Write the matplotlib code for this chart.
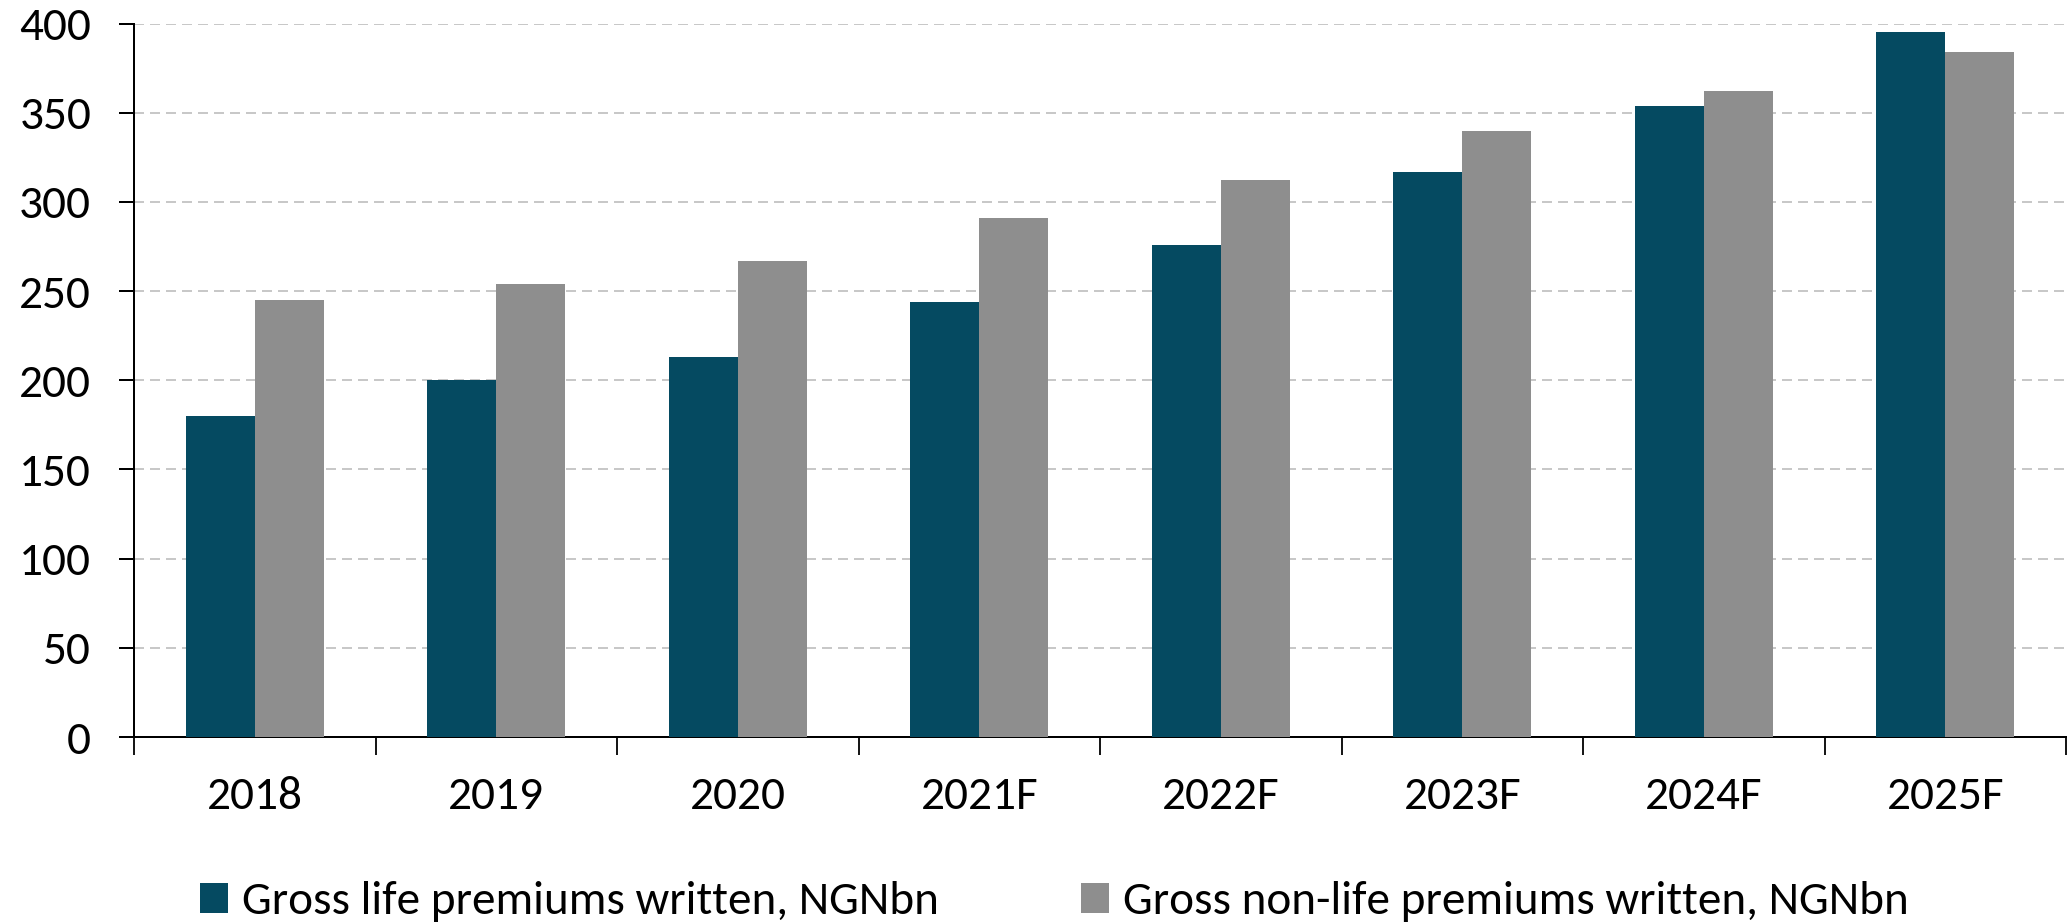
import matplotlib
matplotlib.use("Agg")
import matplotlib.pyplot as plt
import numpy as np

# Gross premiums written, NGN bn
years = ["2018", "2019", "2020", "2021F", "2022F", "2023F", "2024F", "2025F"]
life = [180, 200, 213, 244, 276, 317, 354, 395]
non_life = [245, 254, 267, 291, 312, 340, 362, 384]
y_ticks = [0, 50, 100, 150, 200, 250, 300, 350, 400]
series_names = ["Gross life premiums written, NGNbn",
                "Gross non-life premiums written, NGNbn"]

plt.rcParams["font.family"] = ["Carlito", "Lato", "DejaVu Sans"]

DARK = "#054a61"
GREY = "#8e8e8e"
FS = 34

fig = plt.figure(figsize=(20.7, 9.23), dpi=100)
ax = fig.add_axes([134 / 2070, 1 - 737 / 923, (2066 - 134) / 2070, (737 - 23.5) / 923])

x = np.arange(len(years))
w = 0.286
ax.bar(x - w / 2, life, width=w, color=DARK, label=series_names[0], zorder=3)
ax.bar(x + w / 2, non_life, width=w, color=GREY, label=series_names[1], zorder=3)

ax.set_xlim(-0.5, len(years) - 0.5)
ax.set_ylim(0, 400)
ax.set_yticks(y_ticks)
ax.set_yticklabels([str(v) for v in y_ticks], fontsize=FS)

ax.set_xticks(x)
ax.set_xticklabels(years, fontsize=FS)
ax.set_xticks(np.arange(len(years) + 1) - 0.5, minor=True)
ax.tick_params(axis="x", which="major", length=0, pad=28)
ax.tick_params(axis="x", which="minor", length=13, width=1.3, color="black", direction="out")
ax.tick_params(axis="y", which="major", length=10.8, width=1.44, color="black", pad=20)

ax.yaxis.grid(True, color="#c8c8c8", linestyle=(0, (5, 3)), linewidth=1.44, zorder=0)
ax.set_axisbelow(True)

for side in ("top", "right"):
    ax.spines[side].set_visible(False)
for side in ("left", "bottom"):
    ax.spines[side].set_linewidth(1.44)
    ax.spines[side].set_color("black")

leg = fig.legend(loc="center", bbox_to_anchor=(1054.5 / 2070, 1 - 902 / 923),
                 ncol=2, frameon=False, fontsize=FS,
                 handlelength=0.6, handleheight=0.58, handletextpad=0.3,
                 columnspacing=3.0, borderaxespad=0, borderpad=0)

fig.savefig("out.png", dpi=100)
